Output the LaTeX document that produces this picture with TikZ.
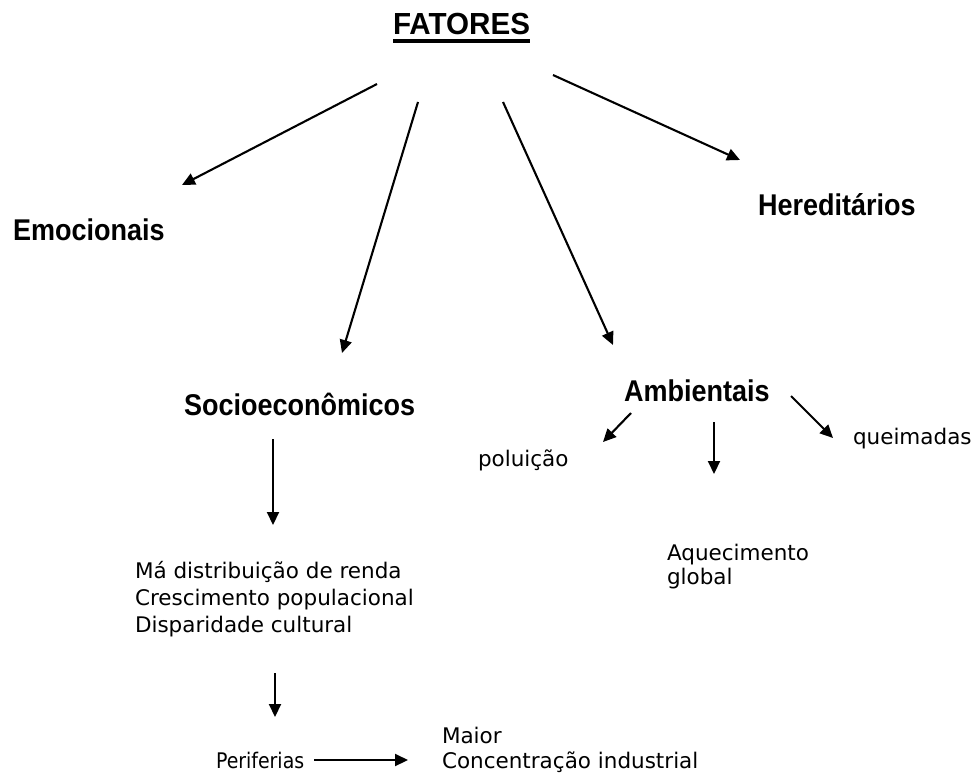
\documentclass[tikz,border=0pt]{standalone}
\usepackage{fontspec}
\setmainfont{Liberation Sans}
\newfontfamily\pixfont{DejaVu Sans}
\usetikzlibrary{arrows.meta}
\begin{document}
\begin{tikzpicture}[x=1pt,y=-1pt,
  lbl/.style={inner sep=0pt,outer sep=0pt,anchor=base west},
  head/.style={lbl,font=\fontsize{30}{32}\selectfont\bfseries},
  small/.style={lbl,font=\pixfont\fontsize{21.5}{26}\selectfont},
  arr/.style={line width=2.1pt,-{Triangle[length=13pt,width=12pt]}}]
\useasboundingbox[fill=white] (0,0) rectangle (979,773);
% title
\node[lbl,font=\fontsize{30.5}{32}\selectfont\bfseries] (fatores) at (393,35) {\scalebox{0.97}[1]{FATORES}};
\draw[line width=4pt] ([yshift=-6pt]fatores.base west) -- ([yshift=-6pt]fatores.base east);
% main categories
\node[head] (emo) at (13,240) {\scalebox{0.9}[1]{Emocionais}};
\node[head] (her) at (758,215) {\scalebox{0.9}[1]{Hereditários}};
\node[head] (soc) at (184,415) {\scalebox{0.9}[1]{Socioeconômicos}};
\node[head] (amb) at (624,401) {\scalebox{0.9}[1]{Ambientais}};
% small texts
\node[small] (pol) at (478,466) {poluição};
\node[small] (que) at (853,444) {queimadas};
\node[small] (aq1) at (667,560) {Aquecimento};
\node[small] (aq2) at (667,584) {global};
\node[small] (m1) at (135,578) {Má distribuição de renda};
\node[small] (m2) at (135,605) {Crescimento populacional};
\node[small] (m3) at (135,632) {Disparidade cultural};
\node[small] (per) at (216,768) {\scalebox{0.88}[1]{Periferias}};
\node[small] (mai) at (442,743) {Maior};
\node[small] (con) at (442,768) {Concentração industrial};
% arrow end points
\coordinate (a1s) at (377,84);  \coordinate (a1e) at (182,185);
\coordinate (a2s) at (418,102); \coordinate (a2e) at (342,353);
\coordinate (a3s) at (503,102); \coordinate (a3e) at (613,345);
\coordinate (a4s) at (553,75);  \coordinate (a4e) at (740,160);
\coordinate (a5s) at (273,439); \coordinate (a5e) at (273,525);
\coordinate (a6s) at (275,673); \coordinate (a6e) at (275,717);
\coordinate (a7s) at (314,760); \coordinate (a7e) at (408,760);
\coordinate (a8s) at (631,413); \coordinate (a8e) at (603,442);
\coordinate (a9s) at (714,422); \coordinate (a9e) at (714,474);
\coordinate (a10s) at (791,396); \coordinate (a10e) at (833,438);
\draw[arr] (a1s) -- (a1e);
\draw[arr] (a2s) -- (a2e);
\draw[arr] (a3s) -- (a3e);
\draw[arr] (a4s) -- (a4e);
\draw[arr] (a5s) -- (a5e);
\draw[arr] (a6s) -- (a6e);
\draw[arr] (a7s) -- (a7e);
\draw[arr] (a8s) -- (a8e);
\draw[arr] (a9s) -- (a9e);
\draw[arr] (a10s) -- (a10e);
\end{tikzpicture}
\end{document}
